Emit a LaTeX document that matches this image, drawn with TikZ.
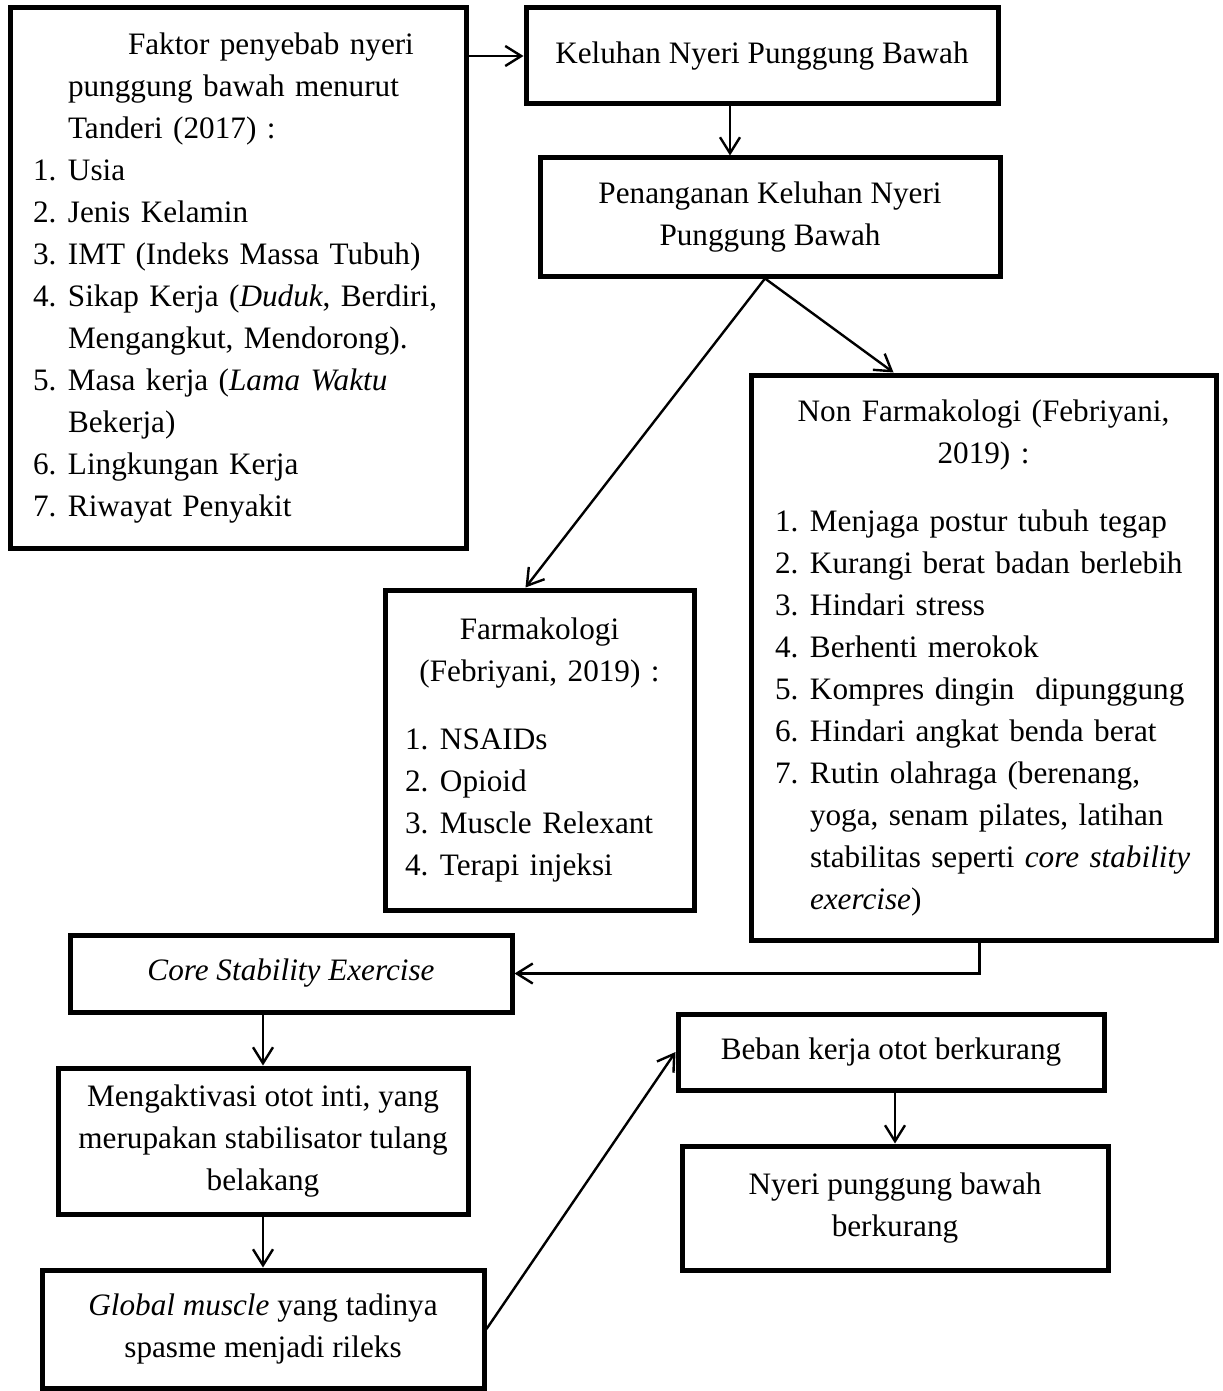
\documentclass[tikz,border=0pt]{standalone}
\usepackage{fontspec}
\setmainfont{Liberation Serif}
\usetikzlibrary{arrows.meta}

\newlength{\numw}\setlength{\numw}{17.5pt}
\newcommand{\itm}[2]{\makebox[\numw][l]{#1}\mbox{#2}}
\newcommand{\cnt}[1]{\hspace*{\numw}\mbox{#1}}
\newcommand{\ctr}[1]{\makebox[\hsize][c]{#1}}

\begin{document}
\begin{tikzpicture}[x = 0.5pt, y = -0.5pt,
	box/.style = {draw, line width = 2.5pt, inner sep = 0pt, align = center, font = \fontsize{15.6}{21}\selectfont},
	listbox/.style = {box, align = left},
	arr/.style = {-{Straight Barb[length = 8pt, width = 10pt]}, line width = 1.2pt}]

	\useasboundingbox (0, 0) rectangle (1222, 1391);

	% Factors
	
	\node [listbox, minimum width = 228pt, minimum height = 270pt, text width = 205pt] (fak) at (238, 278) {%
		\hspace*{47.5pt}\mbox{Faktor penyebab nyeri}\\
		\cnt{punggung bawah menurut}\\
		\cnt{Tanderi (2017) :}\\
		\itm{1.}{Usia}\\
		\itm{2.}{Jenis Kelamin}\\
		\itm{3.}{IMT (Indeks Massa Tubuh)}\\
		\itm{4.}{Sikap Kerja (\textit{Duduk}, Berdiri,}\\
		\cnt{Mengangkut, Mendorong).}\\
		\itm{5.}{Masa kerja (\textit{Lama Waktu}}\\
		\cnt{Bekerja)}\\
		\itm{6.}{Lingkungan Kerja}\\
		\itm{7.}{Riwayat Penyakit}};

	% Complaint and treatment
	
	\node [box, minimum width = 236pt, minimum height = 48pt] (kel) at (762, 56) {Keluhan Nyeri Punggung Bawah};
	\node [box, minimum width = 230pt, minimum height = 59pt] (pen) at (770, 217) {Penanganan Keluhan Nyeri\\Punggung Bawah};

	% Pharmacological
	
	\node [listbox, minimum width = 154.5pt, minimum height = 160pt, text width = 134.5pt] (far) at (539.5, 750) {%
		\ctr{Farmakologi}\\
		\ctr{(Febriyani, 2019) :}\\[13pt]
		\itm{1.}{NSAIDs}\\
		\itm{2.}{Opioid}\\
		\itm{3.}{Muscle Relexant}\\
		\itm{4.}{Terapi injeksi}};

	% Non pharmacological
	
	\node [listbox, minimum width = 232.5pt, minimum height = 282.5pt, text width = 208.5pt] (non) at (983.5, 657.5) {%
		\ctr{Non Farmakologi (Febriyani,}\\
		\ctr{2019) :}\\[13pt]
		\itm{1.}{Menjaga postur tubuh tegap}\\
		\itm{2.}{Kurangi berat badan berlebih}\\
		\itm{3.}{Hindari stress}\\
		\itm{4.}{Berhenti merokok}\\
		\itm{5.}{Kompres dingin\ \ dipunggung}\\
		\itm{6.}{Hindari angkat benda berat}\\
		\itm{7.}{Rutin olahraga (berenang,}\\
		\cnt{yoga, senam pilates, latihan}\\
		\cnt{stabilitas seperti \textit{core stability}}\\
		\cnt{\textit{exercise})}};

	% Exercise chain
	
	\node [box, minimum width = 221pt, minimum height = 38.5pt] (cor) at (291, 973.5) {\textit{Core Stability Exercise}};
	\node [box, minimum width = 205pt, minimum height = 73pt] (men) at (263, 1141) {Mengaktivasi otot inti, yang\\merupakan stabilisator tulang\\belakang};
	\node [box, minimum width = 221pt, minimum height = 59pt] (glo) at (263, 1329) {\textit{Global muscle} yang tadinya\\spasme menjadi rileks};
	\node [box, minimum width = 213pt, minimum height = 38pt] (beb) at (891, 1052) {Beban kerja otot berkurang};
	\node [box, minimum width = 213pt, minimum height = 62pt] (nye) at (895, 1208) {Nyeri punggung bawah\\berkurang};

	% Connectors
	
	\coordinate (k1) at ([xshift = -16pt]kel.south);
	\coordinate (p1) at ([xshift = -2.5pt]pen.south);
	
	\draw [arr] (fak.east |- kel.west) -- (kel.west);
	\draw [arr] (k1) -- (k1 |- pen.north);
	\draw [arr] (p1) -- ([xshift = -7pt]far.north);
	\draw [arr] (p1) -- ([xshift = -45pt]non.north);
	\draw [arr] ([xshift = -2pt]non.south) |- (cor.east);
	\draw [arr] (men.north |- cor.south) -- (men.north);
	\draw [arr] (men.south) -- (glo.north);
	\draw [arr] (glo.east) -- (beb.west);
	\draw [arr] (nye.north |- beb.south) -- (nye.north);

\end{tikzpicture}
\end{document}
